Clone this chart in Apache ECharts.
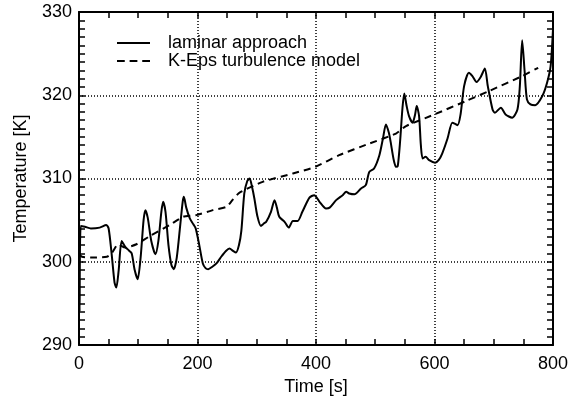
<!DOCTYPE html>
<html><head><meta charset="utf-8">
<script src="https://cdn.jsdelivr.net/npm/echarts@6/dist/echarts.min.js"></script>
<style>html,body{margin:0;padding:0;background:#fff}#c{width:571px;height:401px}</style>
</head><body><div id="c"></div>
<script>
var laminarTime = [0,1,3,10,20,35,46,50,55,60,63,67,72,78,85,89,94,99,104,109,112,116,122,129,134,139,142,146,151,156,160,165,171,175,177,181,187,193,197,203,209,214,218,225,232,240,248,254,260,265,270,274,279,284,288,292,296,301,307,312,316,324,330,334,338,347,354,361,369,377,389,397,406,417,423,434,445,451,456,465,476,484,490,498,507,513,518,523,526,531,535,538,542,546,549,553,557,563,567,570,574,577,580,585,591,601,607,613,622,630,634,639,644,650,658,664,671,678,685,690,698,702,712,720,731,740,744,748,752,756,762,770,782,790,796,800];
var laminarTemp = [307.3,294,304.3,304.2,304.0,304.1,304.4,304.0,301,297.5,296.9,299,302.5,301.8,301.3,301.0,299,297.9,300.5,305,306.2,305.3,302.5,300.9,302.5,306,307.2,306,302,299.6,299.1,300.5,304.5,307.2,307.8,306.5,305.2,304.5,304,302,299.8,299.2,299.1,299.4,299.8,300.6,301.3,301.6,301.3,301.1,302,303.7,308.2,309.7,310,309,307.6,305.5,304.3,304.6,304.8,306,307.4,306.5,305.4,304.8,304.1,304.9,304.9,306,307.7,308,307.2,306.4,306.5,307.4,308,308.4,308.2,308.1,308.8,309.2,310.8,311.2,312.8,314.8,316.5,315.5,314.4,312.3,311.4,311.5,314.5,318.5,320.2,318.7,317.5,316.7,317.6,318.7,317.5,314,312.4,312.6,312.2,311.9,312.2,313,314.8,316.7,316.6,316.4,317.7,321.1,322.7,322.3,321.6,322.2,323.2,321.1,318.3,317.9,318.5,317.7,317.3,318.3,321,326.6,323,319.5,318.9,318.8,319.9,321.5,323.5,327.9];
var kepsTime = [0,5,20,47,55,66,78,97,120,153,176,198,226,249,260,271,310,361,399,439,490,535,552,600,653,692,748,775];
var kepsTemp = [300.9,300.6,300.5,300.6,301.0,302.1,301.7,302.1,303.1,304.4,305.4,305.6,306.2,306.6,307.5,308.3,309.6,310.6,311.4,312.8,314.2,315.4,316.3,317.7,319.3,320.5,322.3,323.3];
var xTicks = [0,200,400,600,800];
var yTicks = [290,300,310,320,330];

function pairs(a,b){return a.map(function(v,i){return [v,b[i]];});}
var FONT = '"Liberation Sans", Arial, Helvetica, sans-serif';
var chart = echarts.init(document.getElementById('c'), null, {renderer:'canvas'});
var grid = {left:79, right:17, top:12, bottom:53};
var axLine = {show:true, onZero:false, lineStyle:{color:'#000', width:2}};
var tick = {show:true, inside:true, length:6, lineStyle:{color:'#000', width:1.5}};
var minor = function(n){return {show:true, splitNumber:n, length:6, lineStyle:{color:'#000', width:1.5}};};
var dotted = {show:true, lineStyle:{color:'#000', width:1.5, type:[1,2]}};
function xa(pos, labels){
  return {type:'value', gridIndex:0, position:pos, min:xTicks[0], max:xTicks[xTicks.length-1], interval:200,
    axisLine:axLine, axisTick:tick, minorTick:minor(4),
    splitLine: pos==='bottom' ? dotted : {show:false},
    axisLabel:{show:labels, color:'#000', fontSize:18, fontFamily:FONT, margin:10},
    name: labels ? 'Time [s]' : '', nameLocation:'middle', nameGap:33,
    nameTextStyle:{color:'#000', fontSize:18, fontFamily:FONT}};
}
function ya(pos, labels){
  return {type:'value', gridIndex:0, position:pos, min:yTicks[0], max:yTicks[yTicks.length-1], interval:10,
    axisLine:axLine, axisTick:tick, minorTick:minor(10),
    splitLine: pos==='left' ? dotted : {show:false},
    axisLabel:{show:labels, color:'#000', fontSize:18, fontFamily:FONT, margin:7},
    name: labels ? 'Temperature [K]' : '', nameLocation:'middle', nameGap:49,
    nameTextStyle:{color:'#000', fontSize:18, fontFamily:FONT}};
}
chart.setOption({
  animation:false,
  backgroundColor:'#fff',
  grid:grid,
  xAxis:[xa('bottom',true), xa('top',false)],
  yAxis:[ya('left',true), ya('right',false)],
  legend:{show:true, orient:'vertical', left:112, top:29, itemWidth:33, itemHeight:2, itemGap:0,
    textStyle:{color:'#000', fontSize:18, fontFamily:FONT, padding:[0,0,0,13]},
    data:[
      {name:'laminar approach', icon:'path://M0,0h34v2h-34z'},
      {name:'K-Eps turbulence model', icon:'path://M0,0h8v2h-8z M13,0h8v2h-8z M26,0h8v2h-8z'}
    ]},
  series:[
    {name:'laminar approach', type:'line', xAxisIndex:0, yAxisIndex:0, data:pairs(laminarTime,laminarTemp), showSymbol:false, symbol:'none', smooth:0.25,
      lineStyle:{color:'#000', width:2}, itemStyle:{color:'#000'}},
    {name:'K-Eps turbulence model', type:'line', xAxisIndex:0, yAxisIndex:0, data:pairs(kepsTime,kepsTemp), showSymbol:false, symbol:'none', smooth:0.2,
      lineStyle:{color:'#000', width:2, type:[7,5]}, itemStyle:{color:'#000'}}
  ]
});
</script></body></html>
